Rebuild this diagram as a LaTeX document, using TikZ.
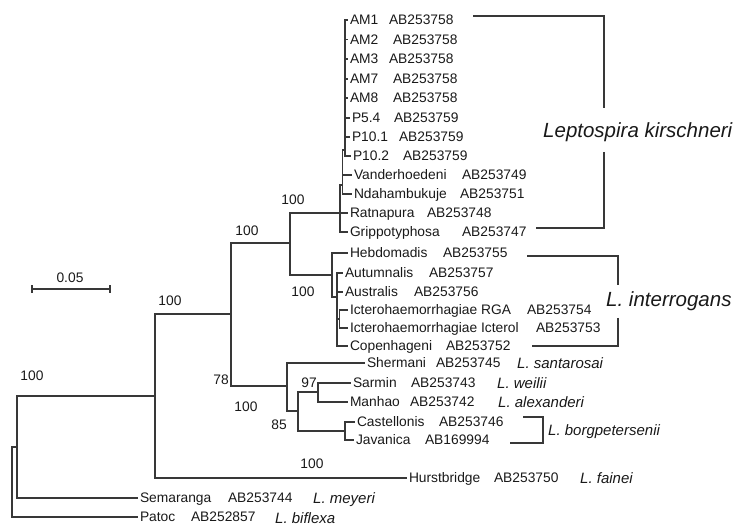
\documentclass[tikz,border=0pt]{standalone}
\usepackage{fontspec}
\setmainfont{Liberation Sans}
\begin{document}
\begin{tikzpicture}[x=1pt,y=-1pt,
  branch/.style={draw=black!78, line width=1.1pt},
  leaf/.style={anchor=west, inner sep=0pt, outer sep=2pt, font=\fontsize{13.8}{14}\selectfont, text height=9.9pt, text depth=0pt, text=black!90},
  boot/.style={inner sep=0pt, font=\fontsize{13.8}{14}\selectfont, text height=9.9pt, text depth=0pt, text=black!90},
  species/.style={anchor=base west, inner sep=0pt, font=\fontsize{15}{16}\selectfont\itshape, text=black!90},
  bigsp/.style={anchor=base west, inner sep=0pt, font=\fontsize{20.5}{22}\selectfont\itshape, text=black!90}]
\useasboundingbox (0,0) rectangle (742,526);

% ---- leaves: names and accessions
\node[leaf] (am1) at (348,20) {AM1};   \node[leaf] (am1a) at (387,20) {AB253758};
\node[leaf] (am2) at (348,39.5) {AM2}; \node[leaf] (am2a) at (391,39.5) {AB253758};
\node[leaf] (am3) at (348,59) {AM3};   \node[leaf] (am3a) at (387,59) {AB253758};
\node[leaf] (am7) at (348,79) {AM7};   \node[leaf] (am7a) at (391,79) {AB253758};
\node[leaf] (am8) at (348,98) {AM8};   \node[leaf] (am8a) at (391,98) {AB253758};
\node[leaf] (p54) at (350,118) {P5.4}; \node[leaf] (p54a) at (392,118) {AB253759};
\node[leaf] (p101) at (350,137) {P10.1}; \node[leaf] (p101a) at (397,137) {AB253759};
\node[leaf] (p102) at (351,156) {P10.2}; \node[leaf] (p102a) at (401,156) {AB253759};
\node[leaf] (vand) at (352,175) {Vanderhoedeni}; \node[leaf] (vanda) at (460,175) {AB253749};
\node[leaf] (ndah) at (352,194) {Ndahambukuje}; \node[leaf] (ndaha) at (458,194) {AB253751};
\node[leaf] (ratn) at (348,213) {Ratnapura}; \node[leaf] (ratna) at (425,213) {AB253748};
\node[leaf] (grip) at (348,232) {Grippotyphosa}; \node[leaf] (gripa) at (460,232) {AB253747};
\node[leaf] (hebd) at (348,253) {Hebdomadis}; \node[leaf] (hebda) at (441,253) {AB253755};
\node[leaf] (autu) at (343,273) {Autumnalis}; \node[leaf] (autua) at (427,273) {AB253757};
\node[leaf] (aust) at (343,292) {Australis}; \node[leaf] (austa) at (412,292) {AB253756};
\node[leaf] (irga) at (348,310) {Icterohaemorrhagiae RGA}; \node[leaf] (irgaa) at (525,310) {AB253754};
\node[leaf] (iict) at (348,328) {Icterohaemorrhagiae Icterol}; \node[leaf] (iicta) at (534,328) {AB253753};
\node[leaf] (cope) at (348,346) {Copenhageni}; \node[leaf] (copea) at (444,346) {AB253752};
\node[leaf] (sher) at (365,363) {Shermani}; \node[leaf] (shera) at (434,363) {AB253745};
\node[leaf] (sarm) at (351,383) {Sarmin}; \node[leaf] (sarma) at (409,383) {AB253743};
\node[leaf] (manh) at (348,402) {Manhao}; \node[leaf] (manha) at (408,402) {AB253742};
\node[leaf] (cast) at (355,422) {Castellonis}; \node[leaf] (casta) at (437,422) {AB253746};
\node[leaf] (java) at (354,440) {Javanica}; \node[leaf] (javaa) at (423,440) {AB169994};
\node[leaf] (hurs) at (407,478) {Hurstbridge}; \node[leaf] (hursa) at (492,478) {AB253750};
\node[leaf] (sema) at (138,498) {Semaranga}; \node[leaf] (semaa) at (226,498) {AB253744};
\node[leaf] (pato) at (138,517) {Patoc}; \node[leaf] (patoa) at (189,517) {AB252857};

% ---- internal nodes
\coordinate (root) at (12,482);
\coordinate (r2) at (17,447);
\coordinate (h) at (155,396);
\coordinate (n78) at (231,314);
\coordinate (nk) at (290,243);
\coordinate (a) at (340,213);
\coordinate (b) at (342.5,185);
\coordinate (c) at (345,150);
\coordinate (i) at (332,275);
\coordinate (j) at (337,297);
\coordinate (k) at (339.5,319);
\coordinate (s) at (287,386);
\coordinate (t) at (298,411);
\coordinate (n97) at (318,392);
\coordinate (cj) at (345,431);

% ---- branches
\draw[branch] (root) |- (r2);
\draw[branch] (root) |- (pato.west);
\draw[branch] (r2) |- (h);
\draw[branch] (r2) |- (sema.west);
\draw[branch] (h) |- (n78);
\draw[branch] (h) |- (hurs.west);
\draw[branch] (n78) |- (nk);
\draw[branch] (n78) |- (s);
\draw[branch] (nk) |- (a);
\draw[branch] (nk) |- (i);
\draw[branch] (a) |- (b);
\draw[branch] (a) |- (ratn.west);
\draw[branch] (a) |- (grip.west);
\draw[branch] (b) |- (c);
\draw[branch] (b) |- (vand.west);
\draw[branch] (b) |- (ndah.west);
\foreach \n in {am1,am2,am3,am7,am8,p54,p101,p102}
  \draw[branch] (c) |- (\n.west);
\draw[branch] (i) |- (hebd.west);
\draw[branch] (i) |- (j);
\draw[branch] (j) |- (autu.west);
\draw[branch] (j) |- (aust.west);
\draw[branch] (j) |- (k);
\draw[branch] (j) |- (cope.west);
\draw[branch] (k) |- (irga.west);
\draw[branch] (k) |- (iict.west);
\draw[branch] (s) |- (sher.west);
\draw[branch] (s) |- (t);
\draw[branch] (t) |- (n97);
\draw[branch] (t) |- (cj);
\draw[branch] (n97) |- (sarm.west);
\draw[branch] (n97) |- (manh.west);
\draw[branch] (cj) |- (cast.west);
\draw[branch] (cj) |- (java.west);

% ---- bootstrap values
\node[boot] (b1) at (32,376) {100};
\node[boot] (b2) at (170,301) {100};
\node[boot] (b3) at (247,231) {100};
\node[boot] (b4) at (293,200) {100};
\node[boot] (b5) at (303,292) {100};
\node[boot] (b6) at (221,380) {78};
\node[boot] (b7) at (309,383) {97};
\node[boot] (b8) at (246,407) {100};
\node[boot] (b9) at (279,425) {85};
\node[boot] (b10) at (312,464) {100};

% ---- scale bar
\coordinate (sbl) at (32,289);
\coordinate (sbr) at (110,289);
\draw[branch] (sbl) -- (sbr);
\draw[branch] ([yshift=-4pt]sbl) -- ([yshift=4pt]sbl);
\draw[branch] ([yshift=-4pt]sbr) -- ([yshift=4pt]sbr);
\node[boot] (sbt) at (70,278) {0.05};

% ---- species brackets and labels
\draw[branch] (473,16) -- (604,16) -- (604,108);
\draw[branch] (604,152) -- (604,228) -- (536,228);
\node[bigsp] (lk) at (543,137.3) {Leptospira kirschneri};

\draw[branch] (527,256) -- (618,256) -- (618,285);
\draw[branch] (618,318) -- (618,346) -- (532,346);
\node[bigsp] (li) at (606,307) {L. interrogans};

\draw[branch] (523,417) -- (543,417) -- (543,443) -- (510,443);
\node[species] (lb) at (548,435.4) {L. borgpetersenii};

\node[species] (ls) at (517,368.4) {L. santarosai};
\node[species] (lw) at (497,388.4) {L. weilii};
\node[species] (la) at (498,407.4) {L. alexanderi};
\node[species] (lf) at (580,483.4) {L. fainei};
\node[species] (lm) at (313,503.4) {L. meyeri};
\node[species] (lbi) at (275,523) {L. biflexa};
\end{tikzpicture}
\end{document}
